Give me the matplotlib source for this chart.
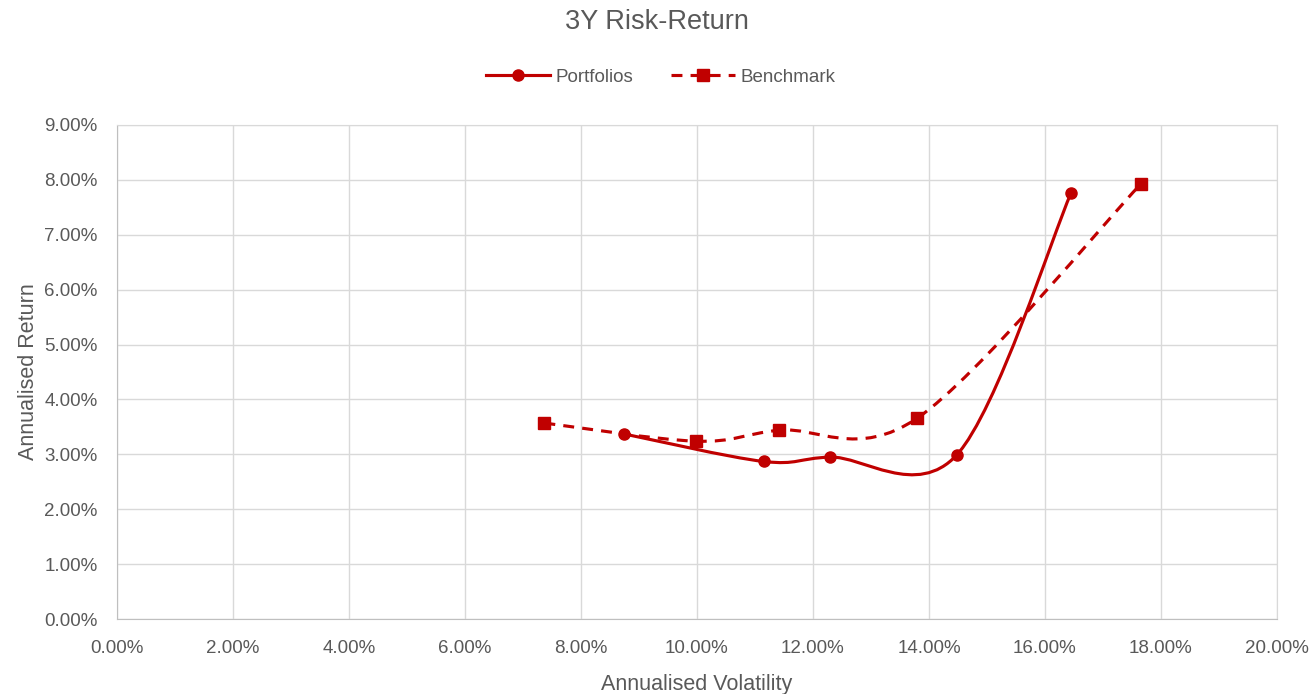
import matplotlib.pyplot as plt
from matplotlib.path import Path
from matplotlib.patches import PathPatch
from matplotlib.lines import Line2D
from matplotlib.ticker import FuncFormatter, MultipleLocator

# data (values in %)
port_vol = [8.75, 11.15, 12.3, 14.48, 16.45]
port_ret = [3.37, 2.87, 2.95, 2.99, 7.76]
bench_vol = [7.37, 9.98, 11.42, 13.8, 17.65]
bench_ret = [3.57, 3.24, 3.44, 3.66, 7.92]

red = "#C00000"
grey_txt = "#595959"
grid_c = "#D9D9D9"

plt.rcParams["font.family"] = ["Liberation Sans", "DejaVu Sans"]


def smooth_path(xs, ys):
    # Excel-like smoothed line: cubic bezier with catmull-rom control points
    pts = list(zip(xs, ys))
    n = len(pts)
    verts = [pts[0]]
    codes = [Path.MOVETO]
    for i in range(n - 1):
        p0 = pts[max(i - 1, 0)]
        p1 = pts[i]
        p2 = pts[i + 1]
        p3 = pts[min(i + 2, n - 1)]
        c1 = (p1[0] + (p2[0] - p0[0]) / 6, p1[1] + (p2[1] - p0[1]) / 6)
        c2 = (p2[0] - (p3[0] - p1[0]) / 6, p2[1] - (p3[1] - p1[1]) / 6)
        verts += [c1, c2, p2]
        codes += [Path.CURVE4] * 3
    return Path(verts, codes)


fig = plt.figure(figsize=(13.14, 6.94), dpi=100)
ax = fig.add_axes([0.089, 0.108, 0.8828, 0.712])

ax.add_patch(PathPatch(smooth_path(port_vol, port_ret), fill=False,
                       edgecolor=red, lw=2.25, capstyle="round", zorder=3))
ax.add_patch(PathPatch(smooth_path(bench_vol, bench_ret), fill=False,
                       edgecolor=red, lw=2.25, linestyle=(0, (3.5, 2.6)),
                       capstyle="butt", zorder=3))
ax.plot(port_vol, port_ret, "o", color=red, ms=8, zorder=4)
ax.plot(bench_vol, bench_ret, "s", color=red, ms=8, zorder=4)

ax.set_xlim(0, 20)
ax.set_ylim(0, 9)
ax.xaxis.set_major_locator(MultipleLocator(2))
ax.yaxis.set_major_locator(MultipleLocator(1))
fmt = FuncFormatter(lambda v, p: "{:.2f}%".format(v))
ax.xaxis.set_major_formatter(fmt)
ax.yaxis.set_major_formatter(fmt)
ax.grid(True, color=grid_c, lw=1)
ax.set_axisbelow(True)
ax.tick_params(length=0, labelsize=13.5, colors=grey_txt)
ax.tick_params(axis="x", pad=15)
ax.tick_params(axis="y", pad=14)
for s in ["top", "right"]:
    ax.spines[s].set_color(grid_c)
for s in ["left", "bottom"]:
    ax.spines[s].set_color("#BFBFBF")

ax.set_xlabel("Annualised Volatility", fontsize=15.5, color=grey_txt, labelpad=12)
ax.set_ylabel("Annualised Return", fontsize=15.5, color=grey_txt, labelpad=4)

fig.text(0.5, 0.968, "3Y Risk-Return", ha="center", va="center",
         fontsize=19.5, color=grey_txt)

handles = [
    Line2D([], [], color=red, lw=2.25, marker="o", ms=8),
    Line2D([], [], color=red, lw=2.25, marker="s", ms=8, linestyle=(0, (3.5, 2.6))),
]
fig.legend(handles, ["Portfolios", "Benchmark"], loc="center",
           bbox_to_anchor=(0.503, 0.889), ncol=2, frameon=False,
           fontsize=13.5, labelcolor=grey_txt, handlelength=3.4,
           columnspacing=2.0, handletextpad=0.3)

fig.savefig("out.png", dpi=100)
